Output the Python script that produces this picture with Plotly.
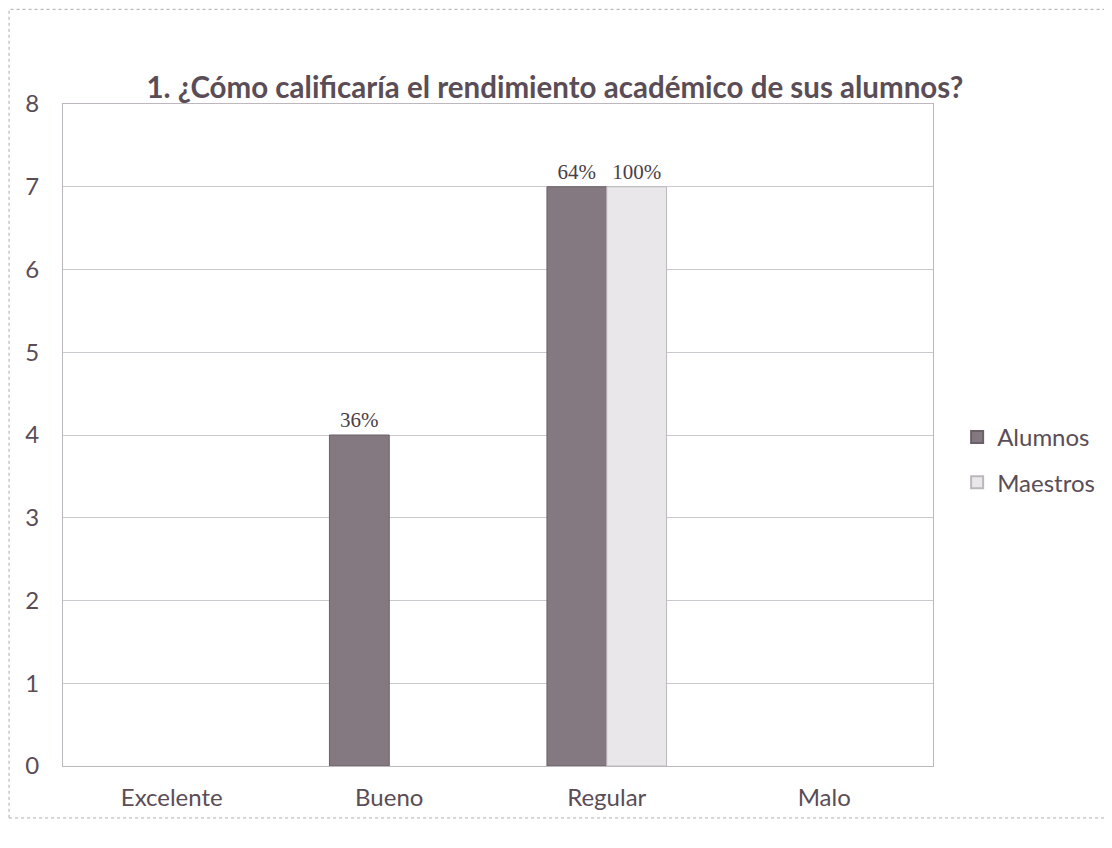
import plotly.graph_objects as go

categories = ["Excelente", "Bueno", "Regular", "Malo"]
alumnos = [0, 4, 7, 0]
maestros = [0, 0, 7, 0]
alumnos_labels = ["", "36%", "64%", ""]
maestros_labels = ["", "", "100%", ""]

TXT = "#5a4d56"
fig = go.Figure()
fig.add_trace(go.Bar(
    x=categories, y=alumnos, name="Alumnos", legendgroup="a",
    marker=dict(color="#847980",
                line=dict(color="#6a6067", width=[1 if v else 0 for v in alumnos])),
    text=alumnos_labels, textposition="outside", cliponaxis=False,
    textfont=dict(family="Liberation Serif", size=21, color="#4a4046"),
))
fig.add_trace(go.Bar(
    x=categories, y=maestros, name="Maestros", legendgroup="b",
    marker=dict(color="#e9e7e9",
                line=dict(color="#bcb7bc", width=[1 if v else 0 for v in maestros])),
    text=maestros_labels, textposition="outside", cliponaxis=False,
    textfont=dict(family="Liberation Serif", size=21, color="#4a4046"),
))

fig.update_layout(
    width=1096, height=840,
    paper_bgcolor="white", plot_bgcolor="white",
    margin=dict(l=55, r=171, t=96, b=82),
    barmode="group", bargap=0.45, bargroupgap=0,
    font=dict(family="Lato", color=TXT),
    title=dict(text="<b>1. ¿Cómo calificaría el rendimiento académico de sus alumnos?</b>",
               x=0.499, xanchor="center", y=0.905, yanchor="middle",
               font=dict(family="Lato", size=29.5, color=TXT)),
    legend=dict(xref="container", yref="container", x=0.866, y=0.462,
                xanchor="left", yanchor="middle",
                font=dict(family="Lato", size=24, color=TXT),
                tracegroupgap=11, itemsizing="constant"),
    showlegend=True,
)
fig.update_xaxes(showline=True, linecolor="#bdb8bd", linewidth=1, mirror=True,
                 tickfont=dict(family="Lato", size=24, color=TXT),
                 ticks="", ticklabelstandoff=10)
fig.update_yaxes(range=[0, 8], dtick=1, showgrid=True, gridcolor="#cdc8cd", gridwidth=1,
                 showline=True, linecolor="#bdb8bd", linewidth=1, mirror=True,
                 zeroline=False, ticks="", ticklabelstandoff=18,
                 tickfont=dict(family="Lato", size=24, color=TXT))
fig.add_shape(type="rect", xref="paper", yref="paper",
              x0=-0.062, x1=1.2, y0=-0.0785, y1=1.143,
              line=dict(color="#b0a8b0", width=1, dash="dot"))
fig.write_html("out.html")
